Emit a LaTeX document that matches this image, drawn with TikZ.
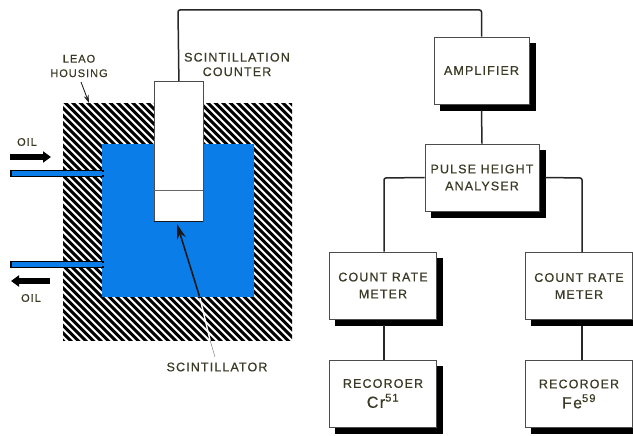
\documentclass[tikz,border=0pt]{standalone}
\usepackage{fontspec}
\setmainfont{Liberation Sans}
\usetikzlibrary{shadows,arrows.meta}
\definecolor{oilblue}{HTML}{0A7DE8}
\definecolor{ink}{HTML}{3A3A26}
\newfontfamily\lbl[LetterSpace=9,FakeBold=0.5]{Liberation Sans}
\tikzset{
  unitbox/.style={draw=black!70,line width=0.7pt,fill=white,inner sep=0pt,align=center,text=ink,
    font=\lbl\fontsize{12.5}{17}\selectfont,
    copy shadow={shadow xshift=6pt,shadow yshift=-6pt,fill=black,draw=black,opacity=1}},
  lab/.style={text=ink,align=center,inner sep=0pt,font=\lbl\fontsize{12.5}{14.5}\selectfont},
  smalllab/.style={lab,font=\lbl\fontsize{11}{14.5}\selectfont},
  wire/.style={draw=black!85,line width=1.5pt,rounded corners=2pt},
  oilpipe/.style={fill=oilblue,draw=black,line width=1.8pt},
  flow/.style={line width=5.4pt,-{Triangle[length=8pt,width=11pt]}},
}
\begin{document}
\begin{tikzpicture}[x=1pt,y=-1pt]
\useasboundingbox (0,0) rectangle (633,436);
% housing with hatching
\begin{scope}
  \clip (63,104) rectangle (292,340);
  \fill[white] (63,104) rectangle (292,340);
  \foreach \k in {0,...,72}
    \draw[black,line width=3.1pt] ({50+\k*7.5},350) -- ({50+\k*7.5-260},90);
\end{scope}
% oil bath and pipes
\fill[oilblue] (102,144) rectangle (254,297);
\node[oilpipe,minimum width=92pt,minimum height=6pt,inner sep=0pt,anchor=west] (inpipe) at (10,173.5) {};
\node[oilpipe,minimum width=92pt,minimum height=6pt,inner sep=0pt,anchor=west] (outpipe) at (10,264.5) {};
\fill[oilblue] (100,172) rectangle (104,175);
\fill[oilblue] (100,263) rectangle (104,266);
% counter
\node[draw=black!70,fill=white,line width=0.8pt,minimum width=49pt,minimum height=140pt,inner sep=0pt,anchor=north west] (counter) at (154,81) {};
\draw[black!60,line width=0.7pt] (154,190) -- (203,190);
\draw[black!90,line width=1pt] (154,221) -- (203,221);
% boxes
\node[unitbox,minimum width=95pt,minimum height=67pt] (amp) at (481.5,70.5) {AMPLIFIER};
\node[unitbox,minimum width=114pt,minimum height=67pt] (pha) at (482,177.5) {PULSE HEIGHT\\ANALYSER};
\node[unitbox,minimum width=107pt,minimum height=67pt] (crl) at (383,285.5) {COUNT RATE\\METER};
\node[unitbox,minimum width=107pt,minimum height=67pt] (crr) at (579,286) {COUNT RATE\\METER};
\node[unitbox,minimum width=107pt,minimum height=67pt] (rcl) at (383,393.5) {RECOROER\\[3pt]{\fontsize{16}{16}\selectfont Cr\textsuperscript{51}}};
\node[unitbox,minimum width=107pt,minimum height=67pt] (rcr) at (579,394) {RECOROER\\[3pt]{\fontsize{16}{16}\selectfont Fe\textsuperscript{59}}};
% connectors
\coordinate (wa) at (178,10);
\coordinate (wb) at (481.5,10);
\coordinate (pl) at (384,178);
\coordinate (pr) at (582,178);
\draw[wire] (counter.north) -- (wa) -- (wb) -- (amp.north);
\draw[wire,rounded corners=0pt] (amp.south) ++(0,6) -- (pha.north);
\draw[wire] (pha.west) -- (pl) -- (pl |- crl.north);
\draw[wire] (pha.east) ++(6,0) -- (pr) -- (pr |- crr.north);
\draw[wire,rounded corners=0pt] (crl.south) ++(1,6) -- (384,360);
\draw[wire,rounded corners=0pt] (crr.south) ++(3,6) -- (582,360);
% labels
\node[smalllab] (lead) at (79,66) {LEAO\\HOUSING};
\coordinate (leadtip) at (89,103);
\draw[black!85,line width=0.9pt,-{Stealth[length=8pt,width=5pt]}] (81,82) -- (leadtip);
\node[lab] (sc) at (237,64.5) {SCINTILLATION\\COUNTER};
\node[smalllab] (oila) at (27,142) {OIL};
\node[smalllab] (oilb) at (31,298) {OIL};
\node[lab] (scn) at (217,367) {SCINTILLATOR};
% flow arrows
\coordinate (fa1) at (10,157);
\coordinate (fa2) at (51,157);
\coordinate (fb1) at (50,281);
\coordinate (fb2) at (11,281);
\draw[flow] (fa1) -- (fa2);
\draw[flow] (fb1) -- (fb2);
% scintillator leader
\coordinate (s1) at (215,357);
\coordinate (s2) at (200,298);
\coordinate (s3) at (177,224);
\coordinate (s4) at (210,340);
\draw[white,line width=1.4pt] (s4) -- (s2);
\draw[black!50,line width=0.5pt] (s1) -- (s4);
\draw[black!90,line width=1.6pt,-{Stealth[length=15pt,width=9pt]}] (s2) -- (s3);
\end{tikzpicture}
\end{document}
